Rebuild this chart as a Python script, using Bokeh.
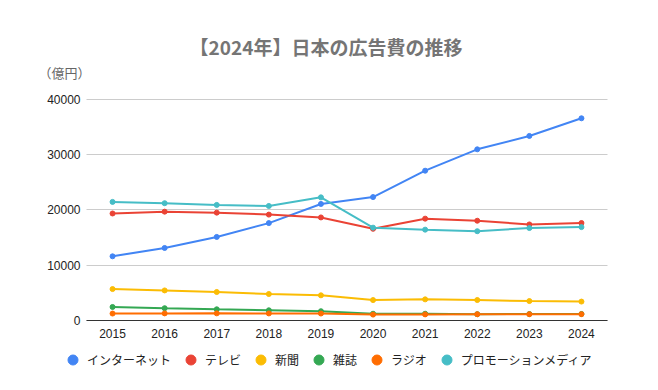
from bokeh.plotting import figure
from bokeh.models import Legend, LegendItem, Label, FixedTicker, Range1d
from bokeh.embed import file_html
from bokeh.resources import INLINE

# ---- data (億円) ----
years = [2015, 2016, 2017, 2018, 2019, 2020, 2021, 2022, 2023, 2024]
internet = [11594, 13100, 15094, 17589, 21048, 22290, 27052, 30912, 33330, 36517]
tv = [19323, 19657, 19478, 19123, 18612, 16559, 18393, 18019, 17347, 17605]
newspaper = [5679, 5431, 5147, 4784, 4547, 3688, 3815, 3697, 3512, 3417]
magazine = [2443, 2223, 2023, 1841, 1675, 1223, 1224, 1140, 1163, 1179]
radio = [1254, 1285, 1290, 1278, 1260, 1066, 1106, 1129, 1139, 1144]
promotion = [21417, 21184, 20875, 20685, 22239, 16768, 16408, 16124, 16696, 16865]

series_names = ["インターネット", "テレビ", "新聞", "雑誌", "ラジオ", "プロモーションメディア"]
series_values = [internet, tv, newspaper, magazine, radio, promotion]
series_colors = ["#4285F4", "#EA4335", "#FBBC04", "#34A853", "#FF6D01", "#46BDC6"]

y_ticks = [0, 10000, 20000, 30000, 40000]
title_text = "【2024年】日本の広告費の推移"
unit_text = "（億円）"

LATIN = "Liberation Sans"
CJK = "Noto Sans CJK JP"

W, H = 642, 374
# plot-area placement (pixels) used to extend the ranges over the whole canvas
AREA_L, AREA_R, AREA_T, AREA_B = 86, 607, 98.5, 320
X0, X1 = years[0] - 0.5, years[-1] + 0.5
Y0, Y1 = y_ticks[0], y_ticks[-1]
xpp = (X1 - X0) / (AREA_R - AREA_L)
ypp = (Y1 - Y0) / (AREA_B - AREA_T)

p = figure(width=W, height=H, title=None,
           x_range=Range1d(X0 - AREA_L * xpp, X1 + (W - AREA_R) * xpp),
           y_range=Range1d(Y0 - (H - AREA_B) * ypp, Y1 + AREA_T * ypp),
           output_backend="svg", toolbar_location=None,
           min_border_left=0, min_border_right=0,
           min_border_top=0, min_border_bottom=0)
p.outline_line_color = None
p.background_fill_color = "white"
p.border_fill_color = "white"

# axes
p.xaxis.ticker = FixedTicker(ticks=years)
p.yaxis.ticker = FixedTicker(ticks=y_ticks)
for ax in (p.xaxis[0], p.yaxis[0]):
    ax.major_tick_line_color = None
    ax.minor_tick_line_color = None
    ax.major_tick_out = 0
    ax.major_tick_in = 0
    ax.major_label_text_font = LATIN
    ax.major_label_text_font_size = "12px"
    ax.major_label_text_color = "#222222"
p.yaxis.fixed_location = X0
p.yaxis.axis_line_color = None
p.yaxis.major_label_standoff = 6
p.xaxis.fixed_location = Y0
p.xaxis.bounds = (X0, X1)
p.xaxis.axis_line_color = "#333333"
p.xaxis.axis_line_width = 1
p.xaxis.major_label_standoff = 8

p.xgrid.visible = False
g = p.ygrid[0]
g.ticker = FixedTicker(ticks=y_ticks)
g.grid_line_color = "#cccccc"
g.grid_line_width = 1
if "cross_bounds" in g.properties():
    g.cross_bounds = (X0, X1)

items = []
for name, vals, col in zip(series_names, series_values, series_colors):
    p.line(years, vals, line_color=col, line_width=2)
    r = p.scatter(years, vals, size=5, fill_color=col, line_color=col, marker="circle")
    items.append(LegendItem(label=name, renderers=[r]))

legend = Legend(items=items, orientation="horizontal", location=(60, 2.5),
                glyph_width=25, glyph_height=25, label_standoff=2, spacing=7,
                padding=0, margin=0, border_line_color=None,
                background_fill_alpha=0,
                label_text_font=CJK, label_text_font_size="12px",
                label_text_color="#222222", label_text_baseline="middle")
p.add_layout(legend)

p.add_layout(Label(x=325.5, y=H - 45.5, x_units="screen", y_units="screen",
                   text=title_text, text_font=CJK, text_font_style="bold",
                   text_font_size="19px", text_color="#757575",
                   text_align="center", text_baseline="middle"))
p.add_layout(Label(x=38, y=H - 72, x_units="screen", y_units="screen",
                   text=unit_text, text_font=CJK, text_font_size="13px",
                   text_color="#666666", text_align="left", text_baseline="middle"))

open("out.html", "w").write(file_html(p, INLINE))
